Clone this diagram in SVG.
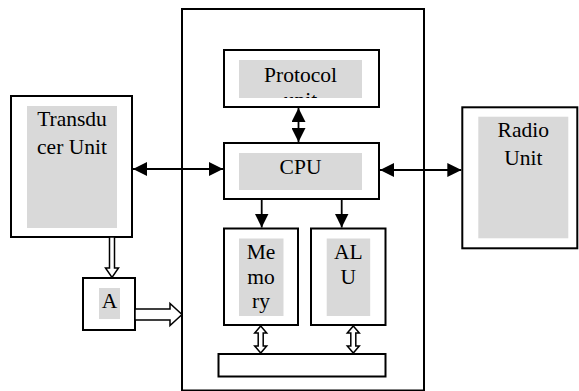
<svg xmlns="http://www.w3.org/2000/svg" width="579" height="391" viewBox="0 0 579 391">
<style>
.box{fill:#fff;stroke:#000;stroke-width:2}
.gray{fill:#d9d9d9;stroke:none}
.t{font-family:"Liberation Serif","Times New Roman",serif;font-size:21.5px;fill:#000;text-anchor:middle}
.ln{stroke:#000;stroke-width:1.8;fill:none}
.hol{fill:#fff;stroke:#000;stroke-width:1.5;stroke-linejoin:miter}
</style>
<defs>
<marker id="ah" viewBox="0 0 14 14" refX="14" refY="7" markerWidth="14" markerHeight="14" markerUnits="userSpaceOnUse" orient="auto-start-reverse">
<path d="M0,0 L14,7 L0,14 z" fill="#000"/>
</marker>
<clipPath id="clipProto"><rect x="239" y="60" width="123" height="38"/></clipPath>
</defs>
<g id="sensor-node">
<rect class="box" x="182" y="9" width="242" height="381.5"/>
</g>
<g id="transducer">
<rect class="box" x="11" y="96" width="121" height="141"/>
<rect class="gray" x="27" y="106" width="90" height="122"/>
<text class="t" x="72" y="125.5">Transdu</text>
<text class="t" x="72" y="153.5">cer Unit</text>
</g>
<g id="adc">
<rect class="box" x="83" y="278" width="52" height="52"/>
<rect class="gray" x="99" y="288" width="21" height="31"/>
<text class="t" x="109.5" y="308">A</text>
</g>
<g id="protocol">
<rect class="box" x="224" y="50" width="155" height="57"/>
<rect class="gray" x="239" y="60" width="123" height="38"/>
<g clip-path="url(#clipProto)">
<text class="t" x="300.5" y="82">Protocol</text>
<text class="t" x="300.5" y="106.5">unit</text>
</g>
</g>
<g id="cpu">
<rect class="box" x="224" y="143" width="155" height="56"/>
<rect class="gray" x="239" y="153" width="123" height="37"/>
<text class="t" x="300.5" y="174">CPU</text>
</g>
<g id="memory">
<rect class="box" x="224" y="228.5" width="74" height="96.5"/>
<rect class="gray" x="239" y="238.5" width="44.5" height="77.5"/>
<text class="t" x="261" y="258.5">Me</text>
<text class="t" x="261" y="284">mo</text>
<text class="t" x="261" y="308">ry</text>
</g>
<g id="alu">
<rect class="box" x="311" y="228.5" width="74.5" height="96.5"/>
<rect class="gray" x="326.7" y="238.5" width="43.5" height="77.5"/>
<text class="t" x="348.3" y="258.5">AL</text>
<text class="t" x="348.3" y="284">U</text>
</g>
<g id="bus">
<rect class="box" x="218.5" y="354" width="167" height="22.5"/>
</g>
<g id="radio">
<rect class="box" x="462.3" y="107.3" width="115" height="141"/>
<rect class="gray" x="478.3" y="116.7" width="90" height="121.6"/>
<text class="t" x="523.3" y="137">Radio</text>
<text class="t" x="523.3" y="165">Unit</text>
</g>
<g id="connectors">
<line class="ln" x1="133" y1="169" x2="223" y2="169" marker-start="url(#ah)" marker-end="url(#ah)"/>
<line class="ln" x1="380" y1="170" x2="461.3" y2="170" marker-start="url(#ah)" marker-end="url(#ah)"/>
<line class="ln" x1="298.5" y1="108" x2="298.5" y2="142" marker-start="url(#ah)" marker-end="url(#ah)"/>
<line class="ln" x1="261.7" y1="200" x2="261.7" y2="227.5" marker-end="url(#ah)"/>
<line class="ln" x1="341.7" y1="200" x2="341.7" y2="227.5" marker-end="url(#ah)"/>
<polygon class="hol" points="109.5,237 114.5,237 114.5,268 118.5,268 112,277.5 105.5,268 109.5,268"/>
<polygon class="hol" points="135,309 170,309 170,303.5 182,314.5 170,325.5 170,320 135,320"/>
<polygon class="hol" points="260.7,326 266.7,333 263.2,333 263.2,346 266.7,346 260.7,353 254.7,346 258.2,346 258.2,333 254.7,333"/>
<polygon class="hol" points="353.3,326 359.3,333 355.8,333 355.8,346 359.3,346 353.3,353 347.3,346 350.8,346 350.8,333 347.3,333"/>
</g>
</svg>
